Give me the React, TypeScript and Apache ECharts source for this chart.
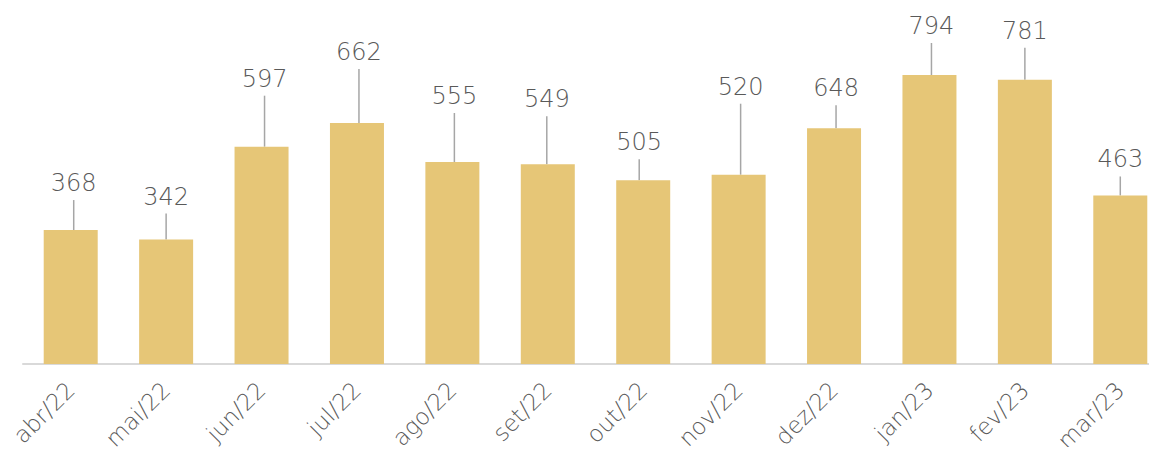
import React, { useEffect, useRef } from "react";
import * as echarts from "echarts";

const categories = ["abr/22", "mai/22", "jun/22", "jul/22", "ago/22", "set/22", "out/22", "nov/22", "dez/22", "jan/23", "fev/23", "mar/23"];
const values = [368, 342, 597, 662, 555, 549, 505, 520, 648, 794, 781, 463];
// vertical distance (px) from bar top to the label's centre
const labelGaps = [47, 43, 68, 71, 66, 65, 38, 88, 40, 49, 49, 36];
const labelShiftX = [3, 0, 3, 2, 2, -1, -4, 2, 2, 2, 0, 0];

const FONT = "'DejaVu Sans', sans-serif";

export default function App() {
  const ref = useRef<HTMLDivElement>(null);
  useEffect(() => {
    if (!ref.current) return;
    const chart = echarts.init(ref.current, null, { renderer: "svg" });
    chart.setOption({
      animation: false,
      grid: { left: 23, right: 0, top: 0, bottom: 91, containLabel: false, outerBoundsMode: "none" },
      xAxis: {
        type: "category",
        data: categories,
        axisLine: { lineStyle: { color: "#d9d9d9", width: 2 } },
        axisTick: { show: false },
        axisLabel: {
          rotate: 45,
          interval: 0,
          margin: 22,
          color: "#595959",
          fontFamily: FONT,
          fontWeight: 200,
          fontSize: 23,
        },
      },
      yAxis: {
        type: "value",
        min: 0,
        max: 1000,
        show: false,
        splitLine: { show: false },
      },
      series: [
        {
          type: "bar",
          data: values,
          barWidth: 54,
          itemStyle: { color: "#E6C677" },
          label: {
            show: true,
            position: "top",
            color: "#595959",
            fontFamily: FONT,
            fontWeight: 200,
            fontSize: 24,
            padding: [0, 0, 10, 0],
            backgroundColor: "rgba(255,255,255,0)",
          },
          labelLine: {
            show: true,
            lineStyle: { color: "#a6a6a6", width: 1.5 },
          },
          labelLayout: (params: any) => {
            const i = params.dataIndex;
            const r = params.rect;
            return {
              x: r.x + r.width / 2 + labelShiftX[i],
              y: r.y - labelGaps[i],
              align: "center",
              verticalAlign: "middle",
            };
          },
        },
      ],
    });
    return () => chart.dispose();
  }, []);
  return (
    <div style={{ width: 1157, height: 455, margin: -8, overflow: "hidden", position: "relative" }}>
      <div ref={ref} style={{ width: 1168, height: 455 }} />
    </div>
  );
}
